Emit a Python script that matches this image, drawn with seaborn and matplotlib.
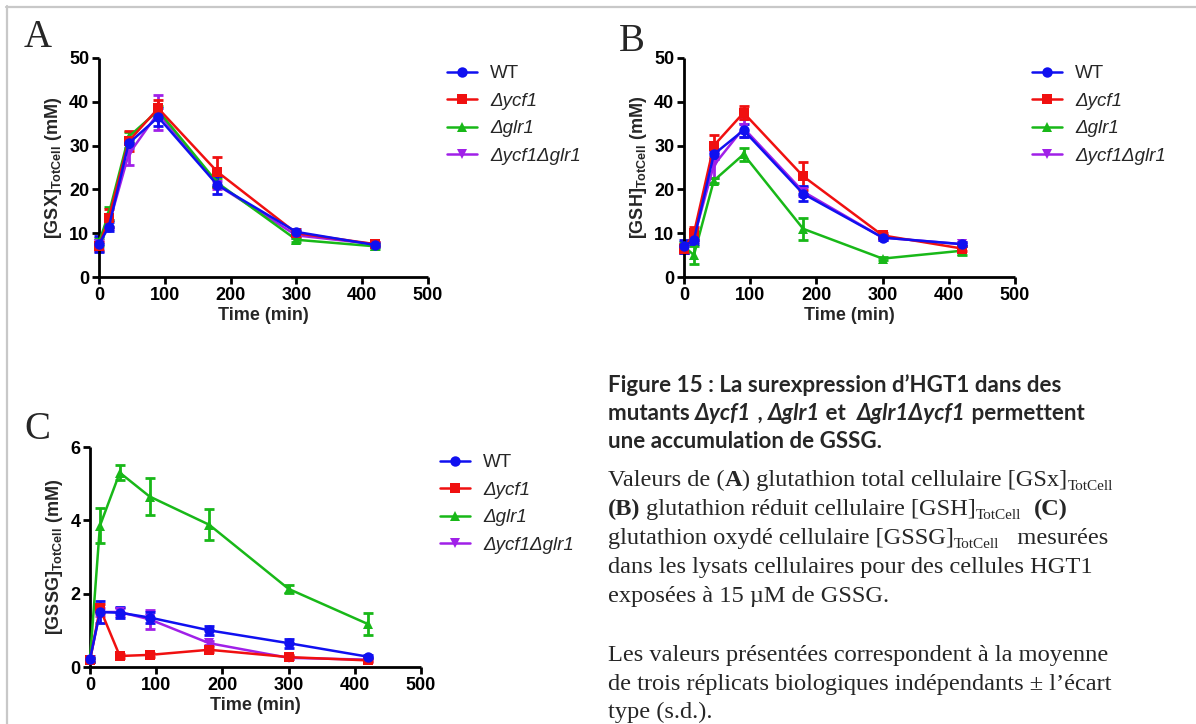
import matplotlib
matplotlib.use("Agg")
import matplotlib.pyplot as plt
from matplotlib.lines import Line2D
import numpy as np
import pandas as pd
import seaborn as sns

# ---------------- data ----------------
times = [0, 15, 45, 90, 180, 300, 420]
strains = ["WT", "Δycf1", "Δglr1", "Δycf1Δglr1"]

# Panel A: [GSX]TotCell (mM)
gsx_wt = [7.5, 11.5, 30.5, 36.5, 21.0, 10.3, 7.3]
gsx_wt_sd = [1.8, 1.0, 1.0, 2.0, 2.0, 0.6, 0.5]
gsx_ycf1 = [7.0, 13.5, 31.0, 38.5, 24.0, 10.0, 7.5]
gsx_ycf1_sd = [1.0, 2.0, 2.3, 2.0, 3.5, 0.6, 0.5]
gsx_glr1 = [8.0, 14.5, 32.0, 38.0, 21.5, 8.5, 7.0]
gsx_glr1_sd = [1.0, 1.5, 1.0, 1.0, 1.0, 0.5, 0.5]
gsx_dbl = [7.5, 12.0, 28.0, 37.5, 21.0, 9.5, 7.5]
gsx_dbl_sd = [1.0, 1.0, 2.5, 4.0, 1.0, 0.5, 0.5]

# Panel B: [GSH]TotCell (mM)
gsh_wt = [7.0, 8.5, 28.0, 33.5, 19.0, 9.0, 7.5]
gsh_wt_sd = [1.5, 1.0, 1.0, 1.5, 1.7, 0.5, 0.5]
gsh_ycf1 = [6.5, 10.0, 30.0, 37.5, 23.0, 9.5, 6.5]
gsh_ycf1_sd = [1.0, 1.5, 2.5, 1.5, 3.2, 0.5, 0.5]
gsh_glr1 = [7.0, 5.0, 22.0, 28.0, 11.0, 4.2, 6.0]
gsh_glr1_sd = [1.0, 2.0, 0.5, 1.5, 2.5, 0.3, 1.0]
gsh_dbl = [6.5, 9.0, 25.5, 34.0, 19.5, 9.0, 7.5]
gsh_dbl_sd = [1.0, 1.0, 3.0, 2.0, 1.0, 0.5, 0.5]

# Panel C: [GSSG]TotCell (mM)
gssg_wt = [0.22, 1.5, 1.48, 1.35, 1.0, 0.65, 0.28]
gssg_wt_sd = [0.08, 0.3, 0.15, 0.15, 0.12, 0.12, 0.04]
gssg_ycf1 = [0.18, 1.6, 0.3, 0.33, 0.47, 0.27, 0.18]
gssg_ycf1_sd = [0.05, 0.12, 0.05, 0.05, 0.07, 0.05, 0.04]
gssg_glr1 = [0.2, 3.85, 5.3, 4.65, 3.88, 2.13, 1.17]
gssg_glr1_sd = [0.05, 0.48, 0.2, 0.5, 0.42, 0.12, 0.3]
gssg_dbl = [0.2, 1.5, 1.5, 1.3, 0.65, 0.25, 0.2]
gssg_dbl_sd = [0.05, 0.1, 0.1, 0.25, 0.06, 0.04, 0.04]

panels = [
    ("A", "GSX", [gsx_wt, gsx_ycf1, gsx_glr1, gsx_dbl],
     [gsx_wt_sd, gsx_ycf1_sd, gsx_glr1_sd, gsx_dbl_sd], 50, 10),
    ("B", "GSH", [gsh_wt, gsh_ycf1, gsh_glr1, gsh_dbl],
     [gsh_wt_sd, gsh_ycf1_sd, gsh_glr1_sd, gsh_dbl_sd], 50, 10),
    ("C", "GSSG", [gssg_wt, gssg_ycf1, gssg_glr1, gssg_dbl],
     [gssg_wt_sd, gssg_ycf1_sd, gssg_glr1_sd, gssg_dbl_sd], 6, 2),
]

colors = {"WT": "#1010F0", "Δycf1": "#F01010", "Δglr1": "#18B818", "Δycf1Δglr1": "#A020E8"}
markers = {"WT": "o", "Δycf1": "s", "Δglr1": "^", "Δycf1Δglr1": "v"}
draw_order = ["Δycf1Δglr1", "Δglr1", "Δycf1", "WT"]

# ---------------- style ----------------
sns.set_style("ticks")
plt.rcParams["font.family"] = ["Liberation Sans", "DejaVu Sans"]
plt.rcParams["mathtext.fontset"] = "custom"
plt.rcParams["mathtext.rm"] = "Liberation Sans"
plt.rcParams["mathtext.bf"] = "Liberation Sans:bold"
plt.rcParams["mathtext.it"] = "Liberation Sans:italic"

W, H = 1196, 724
fig = plt.figure(figsize=(W / 100, H / 100), dpi=100)


def fx(px):
    return px / W


def fy(py):
    return 1 - py / H


axes_px = {
    "A": (99, 58, 428, 277),
    "B": (684, 58, 1015, 277),
    "C": (90, 447, 421, 667),
}
legend_px = {"A": (447, 65), "B": (1032, 65), "C": (440, 454)}
letter_px = {"A": (24, 47), "B": (619, 51), "C": (24, 439)}

for letter, name, vals, sds, ymax, ystep in panels:
    l, t, r, b = axes_px[letter]
    ax = fig.add_axes([fx(l), fy(b), fx(r - l), (b - t) / H])
    rows = []
    for s, v in zip(strains, vals):
        for tt, vv in zip(times, v):
            rows.append({"time": tt, "value": vv, "strain": s})
    df = pd.DataFrame(rows)
    for s in draw_order:
        i = strains.index(s)
        ax.errorbar(times, vals[i], yerr=sds[i], fmt="none", ecolor=colors[s],
                    elinewidth=2.0, capsize=3.5, capthick=2.0, zorder=2)
    sns.lineplot(data=df, x="time", y="value", hue="strain", style="strain",
                 hue_order=draw_order, style_order=draw_order,
                 palette=colors, markers=markers, dashes=False,
                 markersize=7.5, markeredgewidth=0, linewidth=1.8,
                 errorbar=None, legend=False, ax=ax, zorder=3)
    ax.set_xlim(0, 500)
    ax.set_ylim(0, ymax)
    ax.set_xticks(np.arange(0, 501, 100))
    ax.set_yticks(np.arange(0, ymax + 0.1, ystep))
    ax.set_yticklabels([f"{int(v)}" for v in np.arange(0, ymax + 0.1, ystep)])
    for sp in ["top", "right"]:
        ax.spines[sp].set_visible(False)
    for sp in ["left", "bottom"]:
        ax.spines[sp].set_linewidth(2.0)
        ax.spines[sp].set_color("black")
        ax.spines[sp].set_capstyle("butt")
    ax.tick_params(axis="both", direction="out", length=5, width=2.0,
                   labelsize=13, pad=2, colors="black")
    for lab in ax.get_xticklabels() + ax.get_yticklabels():
        lab.set_fontweight("bold")
    ax.set_xlabel("Time (min)", fontsize=13, fontweight="bold", labelpad=2)
    ax.set_ylabel(r"[%s]$_{\mathbf{TotCell}}$ (mM)" % name, fontsize=13,
                  fontweight="bold", labelpad=4)
    ax.set_facecolor("white")
    for ln in ax.lines:
        ln.set_clip_on(False)

    handles = [Line2D([0], [0], color=colors[s], marker=markers[s], markersize=7.5,
                      markeredgewidth=0, linewidth=1.8) for s in strains]
    leg = fig.legend(handles, strains, loc="upper left",
                     bbox_to_anchor=(fx(legend_px[letter][0]), fy(legend_px[letter][1])),
                     frameon=False, fontsize=13.5, handlelength=1.6,
                     handletextpad=0.7, labelspacing=0.56, borderpad=0,
                     borderaxespad=0)
    for i, txt in enumerate(leg.get_texts()):
        if i > 0:
            txt.set_fontstyle("italic")

    lx, ly = letter_px[letter]
    fig.text(fx(lx), fy(ly), letter, fontsize=28, family="Liberation Serif",
             va="baseline", ha="left")

# ---------------- frame lines ----------------
fig.add_artist(Line2D([fx(6), 1.0], [fy(6.5), fy(6.5)], color="#c8c8c8", linewidth=1.6))
fig.add_artist(Line2D([fx(6.5), fx(6.5)], [fy(6), 0.0], color="#c8c8c8", linewidth=1.6))

# ---------------- caption ----------------
fig.canvas.draw()
renderer = fig.canvas.get_renderer()


def draw_runs(x_px, y_px, runs):
    x = fx(x_px)
    for s, props in runs:
        dy = props.pop("dy", 0)
        t = fig.text(x, fy(y_px + dy), s, va="baseline", ha="left", **props)
        bb = t.get_window_extent(renderer)
        x += bb.width / W


TS = 16.1
BS = 17.6
SB = dict(family="Lato", fontweight="bold", fontsize=TS)
SBI = dict(family="Lato", fontweight="bold", fontstyle="italic", fontsize=TS)
SR = dict(family="Liberation Serif", fontsize=BS)
SRB = dict(family="Liberation Serif", fontsize=BS, fontweight="bold")


def sub(s):
    return (s, dict(family="Liberation Serif", fontsize=11, dy=4))


x0 = 608
draw_runs(x0, 392, [("Figure 15 : La surexpression d’HGT1 dans des", dict(SB))])
draw_runs(x0, 420, [("mutants ", dict(SB)), ("Δycf1", dict(SBI)), (" , ", dict(SB)),
                    ("Δglr1", dict(SBI)), (" et  ", dict(SB)), ("Δglr1Δycf1", dict(SBI)),
                    (" permettent", dict(SB))])
draw_runs(x0, 448, [("une accumulation de GSSG.", dict(SB))])
draw_runs(x0, 486, [("Valeurs de (", dict(SR)), ("A", dict(SRB)),
                    (") glutathion total cellulaire [GSx]", dict(SR)), sub("TotCell")])
draw_runs(x0, 515, [("(B)", dict(SRB)), (" glutathion réduit cellulaire [GSH]", dict(SR)),
                    sub("TotCell"), ("  ", dict(SR)), ("(C)", dict(SRB))])
draw_runs(x0, 544, [("glutathion oxydé cellulaire [GSSG]", dict(SR)), sub("TotCell"),
                    ("   mesurées", dict(SR))])
draw_runs(x0, 573, [("dans les lysats cellulaires pour des cellules HGT1", dict(SR))])
draw_runs(x0, 602, [("exposées à 15 µM de GSSG.", dict(SR))])
draw_runs(x0, 661, [("Les valeurs présentées correspondent à la moyenne", dict(SR))])
draw_runs(x0, 690, [("de trois réplicats biologiques indépendants ± l’écart", dict(SR))])
draw_runs(x0, 718, [("type (s.d.).", dict(SR))])

fig.savefig("out.png", dpi=100, facecolor="white")
